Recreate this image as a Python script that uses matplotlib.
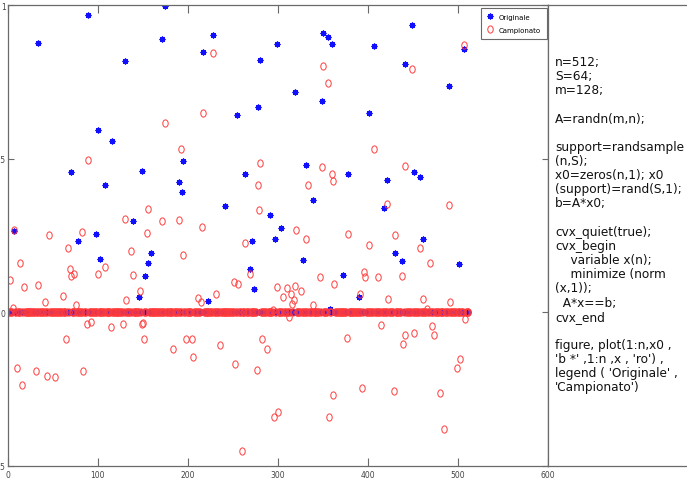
import numpy as np
import matplotlib
matplotlib.use("Agg")
import matplotlib.pyplot as plt
from matplotlib.path import Path
from matplotlib.transforms import Affine2D

n = 512

# nonzero entries of x0 (blue stars): index, value
orig_idx = [34, 89, 130, 175, 171, 217, 228, 255, 100, 116, 195,
            350, 356, 360, 299, 280, 407, 449, 441, 507, 490, 319, 349, 278, 402, 331,
            70, 149, 108, 190, 194, 264, 241, 139, 7, 98, 78, 159, 102, 156, 153, 269, 146, 223,
            378, 421, 451, 458, 339, 418, 291, 304, 272, 297, 461, 328, 430, 438, 502, 373, 274, 390, 358]
orig_val = [0.876, 0.968, 0.820, 0.999, 0.891, 0.848, 0.903, 0.643, 0.593, 0.557, 0.492,
            0.911, 0.896, 0.873, 0.873, 0.822, 0.867, 0.936, 0.808, 0.858, 0.736, 0.719, 0.688, 0.668, 0.648, 0.481,
            0.458, 0.460, 0.415, 0.423, 0.393, 0.452, 0.346, 0.297, 0.265, 0.256, 0.232, 0.192, 0.174, 0.162, 0.119, 0.140, 0.049, 0.038,
            0.452, 0.430, 0.458, 0.440, 0.365, 0.341, 0.316, 0.274, 0.231, 0.239, 0.239, 0.171, 0.192, 0.166, 0.156, 0.121, 0.077, 0.049, 0.010]

# nonzero entries of recovered x (red circles): index, value
rec_idx = [228, 217, 175, 193, 89,
           507, 350, 449, 356, 407, 280, 349, 441,
           156, 130, 171, 190, 216, 7, 46, 82, 155, 264, 67, 137, 195, 14, 108, 69, 70, 74, 100, 139,
           3, 18, 34, 61, 147, 252, 256, 231, 212, 215, 41, 131, 76, 6, 269,
           88, 92, 115, 128, 149, 150,
           360, 361, 278, 334, 279, 421, 490, 320, 331, 378, 430, 402, 458, 469, 347, 396, 397, 412,
           438, 363, 299, 310, 319, 326, 315, 306, 318, 316, 339, 391, 423, 461, 491, 466, 295,
           313, 415, 471, 508,
           10, 16, 31, 44, 52, 65, 84, 151, 184, 198, 205, 206, 236, 253, 260,
           283, 288, 277, 377, 442, 451, 474, 439, 503, 499, 394, 429, 480, 362, 300, 296, 357, 485]
rec_val = [0.843, 0.648, 0.618, 0.533, 0.496,
           0.870, 0.802, 0.794, 0.746, 0.533, 0.487, 0.472, 0.476,
           0.336, 0.303, 0.297, 0.301, 0.279, 0.269, 0.253, 0.263, 0.257, 0.225, 0.208, 0.201, 0.188, 0.162, 0.149, 0.141, 0.117, 0.124, 0.124, 0.121,
           0.104, 0.082, 0.089, 0.054, 0.070, 0.099, 0.092, 0.061, 0.046, 0.035, 0.035, 0.040, 0.024, 0.013, 0.125,
           -0.038, -0.033, -0.047, -0.037, -0.039, -0.035,
           0.452, 0.428, 0.415, 0.416, 0.334, 0.352, 0.350, 0.267, 0.239, 0.255, 0.252, 0.219, 0.208, 0.162, 0.114, 0.132, 0.114, 0.114,
           0.119, 0.093, 0.083, 0.078, 0.085, 0.070, 0.061, 0.050, 0.039, 0.027, 0.025, 0.061, 0.042, 0.044, 0.033, 0.012, 0.009,
           -0.014, -0.041, -0.044, -0.022,
           -0.182, -0.237, -0.192, -0.209, -0.211, -0.088, -0.191, -0.087, -0.118, -0.088, -0.088, -0.144, -0.106, -0.168, -0.453,
           -0.086, -0.120, -0.187, -0.084, -0.073, -0.067, -0.073, -0.103, -0.152, -0.182, -0.248, -0.257, -0.264, -0.269, -0.325, -0.341, -0.341, -0.379]

code_lines = [
    "n=512;", "S=64;", "m=128;", "", "A=randn(m,n);", "",
    "support=randsample", "(n,S);", "x0=zeros(n,1); x0", "(support)=rand(S,1);", "b=A*x0;", "",
    "cvx_quiet(true);", "cvx_begin", "    variable x(n);", "    minimize (norm", "(x,1));", "  A*x==b;", "cvx_end", "",
    "figure, plot(1:n,x0 ,", "'b *' ,1:n ,x , 'ro') ,", "legend ( 'Originale' ,", "'Campionato')",
]

t = np.arange(1, n + 1)
x0 = np.zeros(n)
x0[np.array(orig_idx) - 1] = orig_val
x = np.zeros(n)
x[np.array(rec_idx) - 1] = rec_val

W, H = 687, 489
fig = plt.figure(figsize=(W / 100, H / 100), dpi=100)
ax = fig.add_axes([7.7 / W, 22.2 / H, 540 / W, 460.5 / H])

narrow = ["Liberation Sans Narrow", "DejaVu Sans"]
ring = Path.unit_circle().transformed(Affine2D().scale(0.75, 1.0))

# same order as MATLAB: stars first, circles drawn over them
ax.plot(t, x0, linestyle="none", marker=(8, 2, 0), color="#1010ff",
        markersize=4.2, markeredgewidth=0.9, label="Originale")
ax.plot(t, x, linestyle="none", marker=ring, markerfacecolor="none",
        markeredgecolor="#ff3b3b", markersize=5.2, markeredgewidth=0.7, label="Campionato")

ax.set_xlim(0, 600)
ax.set_ylim(-0.5, 1)
ax.set_xticks([0, 100, 200, 300, 400, 500, 600])
ax.set_yticks([-0.5, 0, 0.5, 1])
ax.set_yticklabels(["-0.5", "0", "0.5", "1"])
for s in ax.spines.values():
    s.set_color("#6a6a6a")
    s.set_linewidth(0.9)
ax.tick_params(axis="x", direction="in", length=6, width=0.8, color="#6a6a6a",
               top=True, pad=3, labelsize=5.5, labelcolor="#444444")
ax.tick_params(axis="y", direction="in", length=4, width=0.8, color="#6a6a6a",
               right=True, pad=1.5, labelsize=5.5, labelcolor="#444444")
for lab in ax.get_xticklabels() + ax.get_yticklabels():
    lab.set_family(narrow)

leg = ax.legend(loc="upper right", bbox_to_anchor=(0.998, 0.995), fancybox=False,
                framealpha=1, edgecolor="#6a6a6a", prop={"family": narrow, "size": 5.0},
                handlelength=0.8, handletextpad=0.8, borderpad=0.9, labelspacing=1.0,
                borderaxespad=0)
leg.get_frame().set_linewidth(0.8)

# code panel on the right
pan = fig.add_axes([548 / W, 22.2 / H, 160 / W, 460.5 / H])
pan.set_xticks([])
pan.set_yticks([])
for s in pan.spines.values():
    s.set_color("#6a6a6a")
    s.set_linewidth(0.9)

for i, line in enumerate(code_lines):
    yc = 61.7 + i * 14.15
    fig.text(555 / W, 1 - (yc + 4.3) / H, line, fontsize=8.75, family="DejaVu Sans",
             va="baseline", ha="left", color="#111111")

fig.savefig("out.png", dpi=100)
